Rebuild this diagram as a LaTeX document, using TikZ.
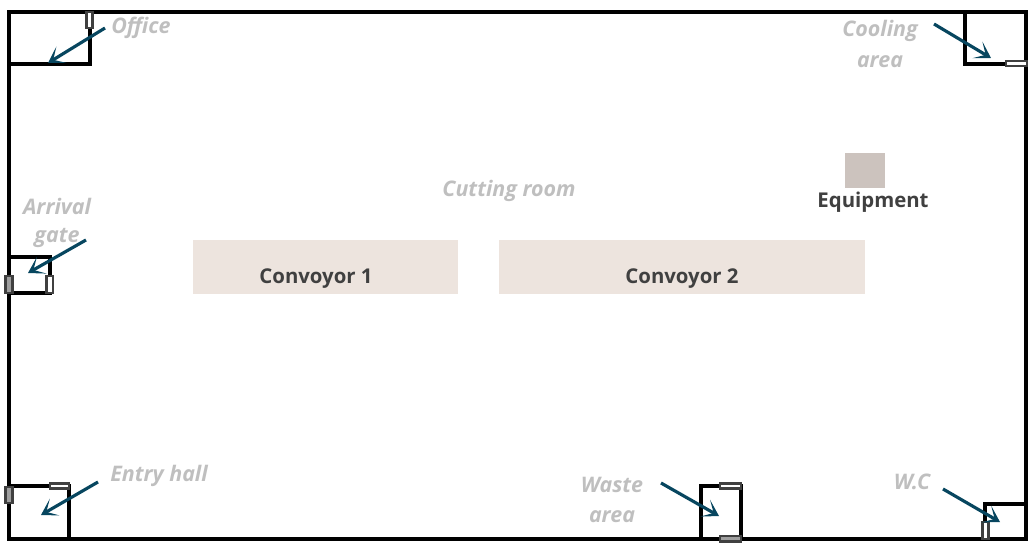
\documentclass[tikz,border=0pt]{standalone}
\usepackage{fontspec}
\setmainfont{Open Sans}
\usepackage{xcolor}
\usetikzlibrary{arrows.meta}
\definecolor{pointer}{HTML}{07465F}
\definecolor{roomtext}{HTML}{BFBFBF}
\definecolor{darktext}{HTML}{404040}
\definecolor{convoyor}{HTML}{EDE4DE}
\definecolor{machine}{HTML}{CCC3BE}
\tikzset{
  wall/.style={line width=1.75pt,black,line join=miter},
  pointerarrow/.style={line width=1.8pt,pointer,-{Stealth[length=9pt,width=11pt,inset=5.5pt]}},
  doorlight/.style={draw=darktext,line width=1.2pt,fill=white},
  doordark/.style={draw=darktext,line width=1.2pt,fill=darktext!50},
  roomlabel/.style={text=roomtext,font=\fontsize{12.2}{14}\selectfont\bfseries\itshape,inner sep=0pt},
  itemlabel/.style={text=darktext,font=\fontsize{11.6}{14}\selectfont\bfseries,inner sep=0pt},
}
\begin{document}
\begin{tikzpicture}[x=0.02cm,y=-0.02cm]
    \useasboundingbox (0,0) rectangle (1035,547);
    % convoyors and equipment
    \fill [convoyor] (193,240) rectangle (458,294);
    \fill [convoyor] (499,240) rectangle (865,294);
    \fill [machine] (845,153) rectangle (885,188);
    \node [itemlabel] (conv1) at (316,279) {Convoyor 1};
    \node [itemlabel] (conv2) at (682,279) {Convoyor 2};
    \node [itemlabel] (equip) at (873,202) {Equipment};
    % walls
    \draw [wall] (9,12) rectangle (1026,539);
    \draw [wall] (90,12)--(90,64)--(9,64);
    \draw [wall] (9,257)--(50,257)--(50,293)--(9,293);
    \draw [wall] (9,486)--(69,486)--(69,539);
    \draw [wall] (701,539)--(701,486)--(741,486)--(741,539);
    \draw [wall] (985,539)--(985,504)--(1026,504);
    \draw [wall] (965,12)--(965,64)--(1026,64);
    % doors
    \draw [doorlight] (86.5,12) rectangle (92.5,28);
    \draw [doordark] (5.5,276) rectangle (12.5,293);
    \draw [doorlight] (46.5,276) rectangle (53,293);
    \draw [doordark] (5.5,487) rectangle (12.5,503);
    \draw [doorlight] (50,483.5) rectangle (69,488.5);
    \draw [doorlight] (720,483.5) rectangle (741,488.5);
    \draw [doordark] (720,536) rectangle (741,541.5);
    \draw [doorlight] (982.5,522) rectangle (988.5,539);
    \draw [doorlight] (1006,61) rectangle (1027,66);
    % room names
    \node [roomlabel] (office) at (141,28) {Office};
    \node [roomlabel] (cooling) at (880,31) {Cooling};
    \node [roomlabel] (coolingb) at (880,62) {area};
    \node [roomlabel] (cutting) at (509,191) {Cutting room};
    \node [roomlabel] (arrival) at (57,206) {Arrival};
    \node [roomlabel] (arrivalb) at (57,238) {gate};
    \node [roomlabel] (entry) at (159,476) {Entry hall};
    \node [roomlabel] (waste) at (612,485) {Waste};
    \node [roomlabel] (wasteb) at (612,517) {area};
    \node [roomlabel] (wc) at (912,482) {W.C};
    % pointers
    \draw [pointerarrow] (105,28)--(48,63);
    \draw [pointerarrow] (86,240)--(28,273);
    \draw [pointerarrow] (98,482)--(41,515);
    \draw [pointerarrow] (661,483)--(719,516);
    \draw [pointerarrow] (943,489)--(1000,522);
    \draw [pointerarrow] (934,24)--(991,58);
\end{tikzpicture}
\end{document}
